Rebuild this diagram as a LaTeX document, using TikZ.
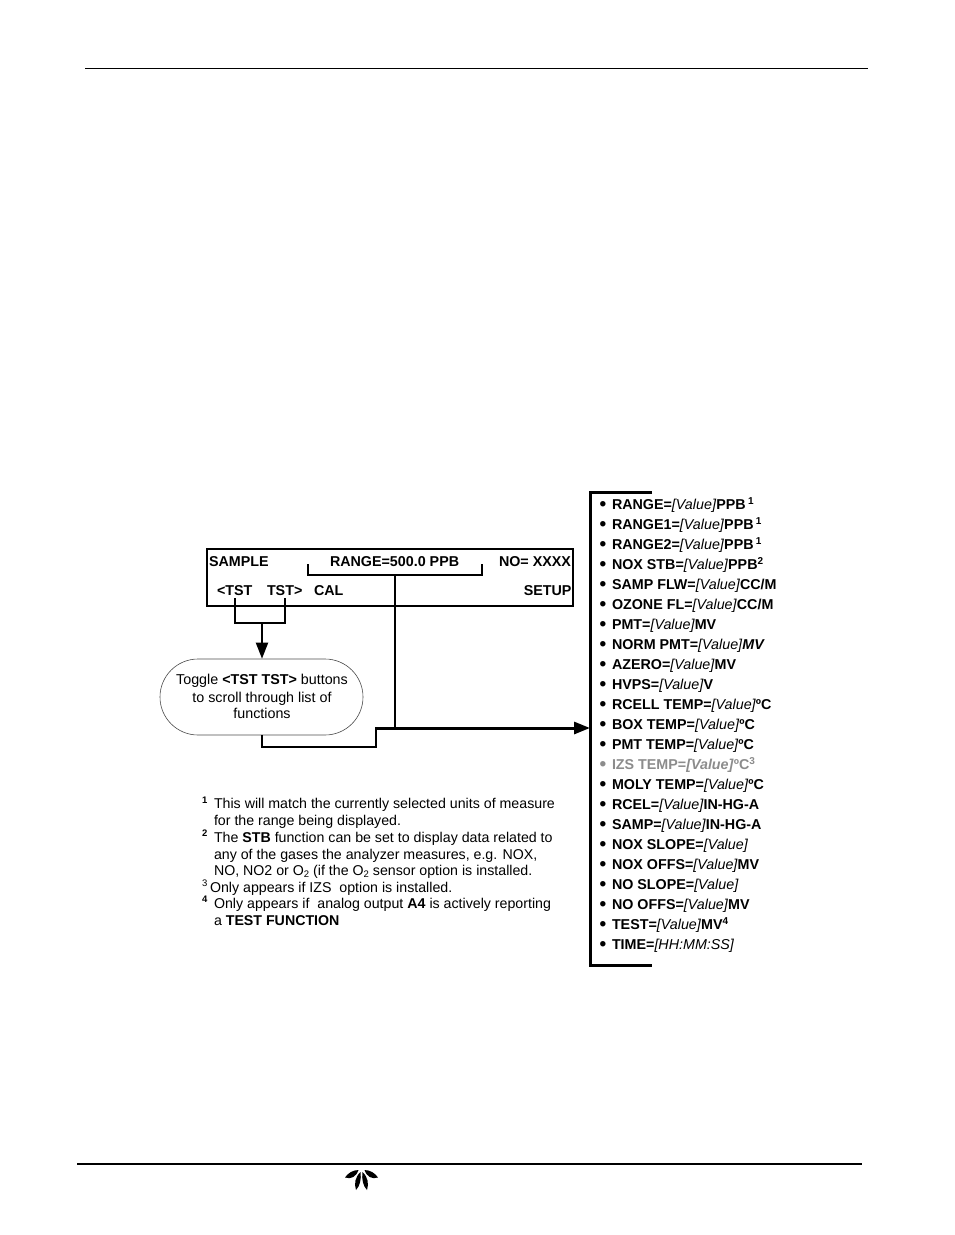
\documentclass[tikz,border=0pt]{standalone}
\usepackage{fontspec}
\setmainfont{Liberation Sans}
\usetikzlibrary{arrows.meta,shapes.misc}
\newcommand{\V}[1]{\textit{\fontseries{m}\selectfont #1}}
\newcommand{\Sp}[1]{\raisebox{5pt}{\fontsize{10}{10}\selectfont\bfseries #1}}
\begin{document}
\begin{tikzpicture}[x=1pt,y=-1pt,
  txt/.style={inner sep=0pt,outer sep=0pt,anchor=base west,font=\fontsize{14.3}{16}\selectfont},
  disp/.style={txt,font=\fontsize{14.3}{16}\selectfont\bfseries},
  item/.style={txt,font=\fontsize{14.3}{16}\selectfont\bfseries},
  bulletmark/.style={txt,font=\fontsize{19}{16}\selectfont\bfseries},
  foot/.style={txt,font=\fontsize{14.2}{16}\selectfont},
  wire/.style={line width=2pt,draw=black},
  fat/.style={line width=3pt,draw=black},
  head/.style={-{Triangle[length=16pt,width=12pt]}},
  rule/.style={draw=black}]
\useasboundingbox (0,0) rectangle (954,1235);
% page rules
\coordinate (h1) at (85,68); \coordinate (h2) at (868,68);
\coordinate (f1) at (77,1164); \coordinate (f2) at (862,1164);
\draw[rule,line width=1pt] (h1) -- (h2);
\draw[rule,line width=2pt] (f1) -- (f2);
% logo
\fill[black] (358.5,1170) .. controls (353,1170) and (348,1173) .. (345,1177.5) .. controls (351,1179.5) and (356,1177) .. (358.5,1170) -- cycle;
\fill[black] (364.5,1170) .. controls (370,1170) and (375,1173) .. (378,1177.5) .. controls (372,1179.5) and (367,1177) .. (364.5,1170) -- cycle;
\fill[black] (360.5,1172) .. controls (355,1177) and (354,1184) .. (356,1190) .. controls (360,1186) and (361.5,1179) .. (360.5,1172) -- cycle;
\fill[black] (362.5,1172) .. controls (368,1177) and (369,1184) .. (367,1190) .. controls (363,1186) and (361.5,1179) .. (362.5,1172) -- cycle;
% display
\node[draw=black,line width=2pt,minimum width=366pt,minimum height=56.5pt,inner sep=0pt,anchor=north west] (display) at (206,548) {};
\node[disp] (sample) at (209,566.5) {SAMPLE};
\node[disp] (range) at (330,566.5) {RANGE=500.0 PPB};
\node[disp] (no) at (499,566.5) {NO= XXXX};
\node[disp] (tstl) at (217,595) {<TST};
\node[disp] (tstr) at (267,595) {TST>};
\node[disp] (cal) at (314,595) {CAL};
\node[disp,anchor=base east] (setup) at (571.5,595) {SETUP};
% pill
\node[rounded rectangle,draw=black!70,line width=.6pt,minimum width=203pt,minimum height=76pt,inner sep=0pt] (pill) at (261.5,697) {};
\node[txt,anchor=base] (p1) at (262,684.5) {Toggle \textbf{<TST TST>} buttons};
\node[txt,anchor=base] (p2) at (262,702) {to scroll through list of};
\node[txt,anchor=base] (p3) at (262,718) {functions};
% connectors
\coordinate (a1) at (235,598); \coordinate (a2) at (285,598);
\coordinate (a3) at (235,623); \coordinate (a4) at (285,623);
\coordinate (a5) at (262,623);
\draw[wire] (a1) -- (a3) -- (a4) -- (a2);
\draw[wire,head] (a5) -- (pill.north -| a5);
\coordinate (b1) at (308,564); \coordinate (b2) at (308,575); \coordinate (b3) at (482,575); \coordinate (b4) at (482,564);
\draw[wire] (b1) -- (b2) -- (b3) -- (b4);
\coordinate (c1) at (395,575); \coordinate (c2) at (395,728);
\draw[wire] (c1) -- (c2);
\coordinate (d1) at (262,735); \coordinate (d2) at (262,747); \coordinate (d3) at (376,747); \coordinate (d4) at (376,728);
\draw[wire] (d1) -- (d2) -- (d3) -- (d4);
\coordinate (e1) at (375,728); \coordinate (e2) at (590,728);
\draw[fat,-{Triangle[length=16pt,width=12pt]}] (e1) -- (e2);
% list bracket
\coordinate (l1) at (652,492); \coordinate (l2) at (590,492); \coordinate (l3) at (590,965); \coordinate (l4) at (652,965);
\draw[fat] (l1) -- (l2) -- (l3) -- (l4);
% list
\foreach \y/\t [count=\n] in {
 510/{RANGE=\V{[Value]}PPB\,\Sp{1}},
 530/{RANGE1=\V{[Value]}PPB\,\Sp{1}},
 550/{RANGE2=\V{[Value]}PPB\,\Sp{1}},
 570/{NOX STB=\V{[Value]}PPB\Sp{2}},
 590/{SAMP FLW=\V{[Value]}CC/M},
 610/{OZONE FL=\V{[Value]}CC/M},
 630/{PMT=\V{[Value]}MV},
 650/{NORM PMT=\V{[Value]}\textit{MV}},
 670/{AZERO=\V{[Value]}MV},
 690/{HVPS=\V{[Value]}V},
 710/{RCELL TEMP=\V{[Value]}ºC},
 730/{BOX TEMP=\V{[Value]}ºC},
 750/{PMT TEMP=\V{[Value]}ºC},
 790/{MOLY TEMP=\V{[Value]}ºC},
 810/{RCEL=\V{[Value]}IN-HG-A},
 830/{SAMP=\V{[Value]}IN-HG-A},
 850/{NOX SLOPE=\V{[Value]}},
 870/{NOX OFFS=\V{[Value]}MV},
 890/{NO SLOPE=\V{[Value]}},
 910/{NO OFFS=\V{[Value]}MV},
 930/{TEST=\V{[Value]}MV\Sp{4}},
 950/{TIME=\V{[HH:MM:SS]}}}{
  \node[bulletmark] (bul\n) at (599.5,\y+0.5) {•};
  \node[item] (it\n) at (612,\y-0.5) {\t};
}
\node[bulletmark,text=black!45] (bulizs) at (599.5,770.5) {•};
\node[item,text=black!45] (itizs) at (612,769.5) {IZS TEMP=\textit{[Value]}ºC\raisebox{5pt}{\fontsize{10}{10}\selectfont 3}};
% footnotes
\node[foot,font=\fontsize{9.5}{9}\selectfont\bfseries] (n1) at (202,803) {1};
\node[foot] (f1a) at (214,808.5) {This will match the currently selected units of measure};
\node[foot] (f1b) at (214,825.5) {for the range being displayed.};
\node[foot,font=\fontsize{9.5}{9}\selectfont\bfseries] (n2) at (202,836) {2};
\node[foot] (f2a) at (214,842.5) {The \textbf{STB} function can be set to display data related to};
\node[foot] (f2b) at (214,859) {any of the gases the analyzer measures, e.g. NOX,};
\node[foot] (f2c) at (214,875.5) {NO, NO2 or O\raisebox{-1.5pt}{\fontsize{9.5}{9}\selectfont 2} (if the O\raisebox{-1.5pt}{\fontsize{9.5}{9}\selectfont 2} sensor option is installed.};
\node[foot,font=\fontsize{9.5}{9}\selectfont] (n3) at (202,886) {3};
\node[foot] (f3) at (210,892) {Only appears if IZS\ \ option is installed.};
\node[foot,font=\fontsize{9.5}{9}\selectfont\bfseries] (n4) at (202,902) {4};
\node[foot] (f4a) at (214,908.5) {Only appears if\ \ analog output \textbf{A4} is actively reporting};
\node[foot] (f4b) at (214,925) {a \textbf{TEST FUNCTION}};
\end{tikzpicture}
\end{document}
